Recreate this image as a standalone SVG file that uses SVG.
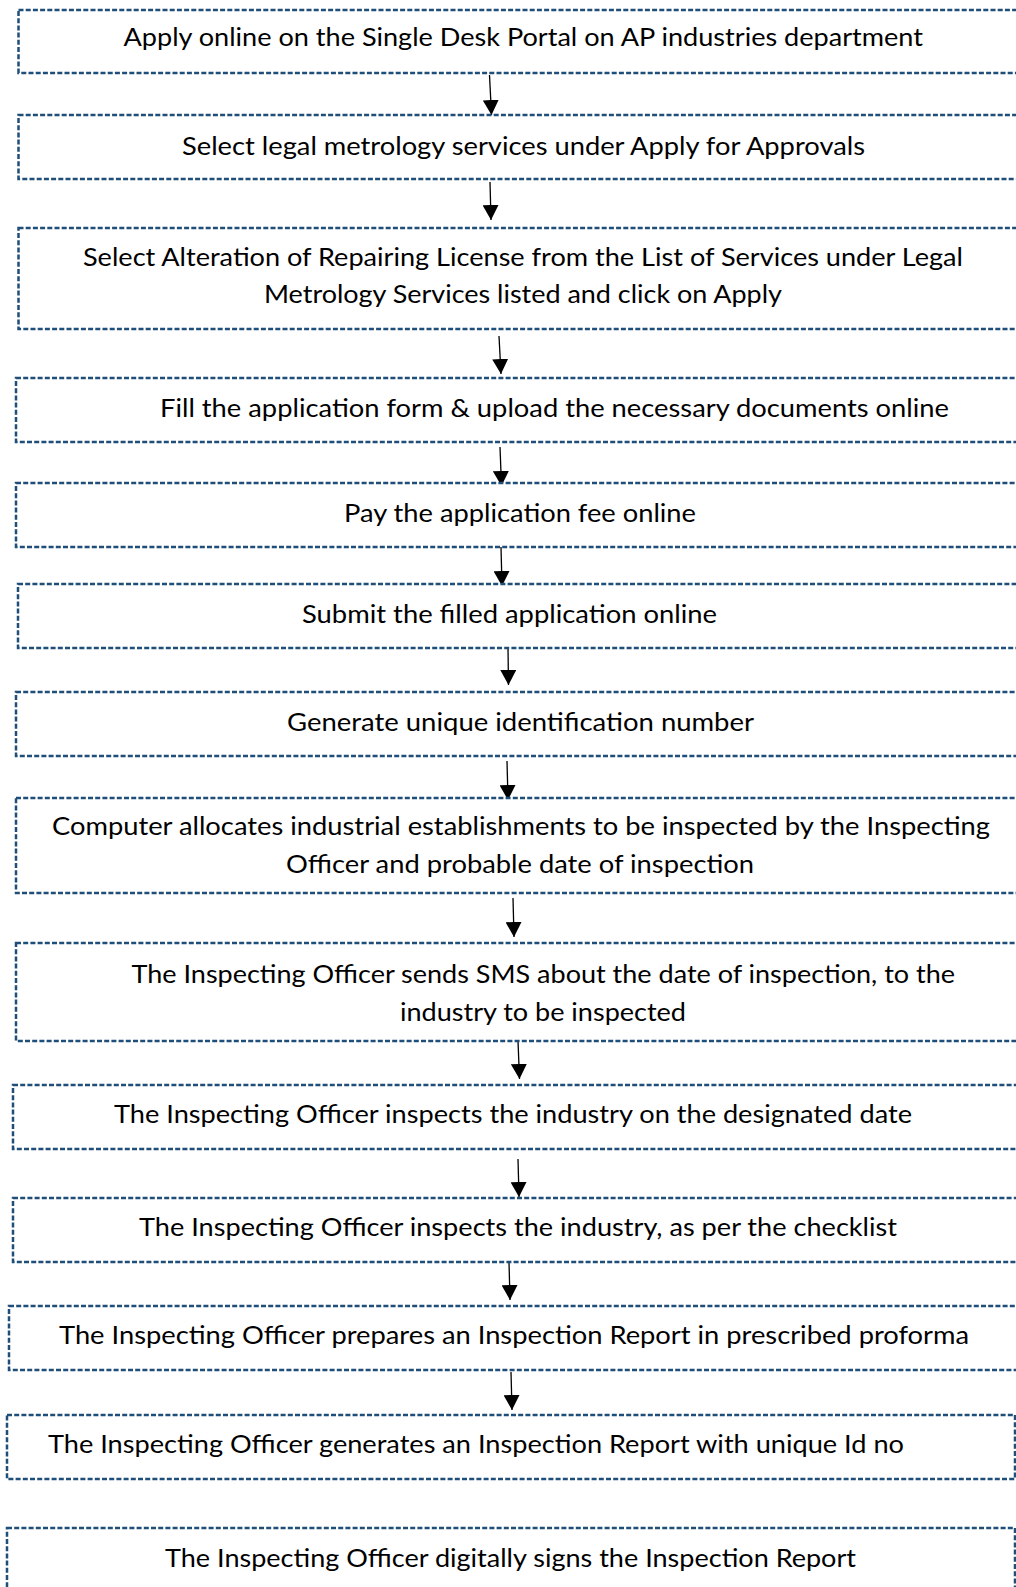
<svg xmlns="http://www.w3.org/2000/svg" width="1016" height="1587" viewBox="0 0 1016 1587">
<style>
.box{fill:#fff;stroke:#1F4E79;stroke-width:2.5;stroke-dasharray:5 2.2}
.t{font-family:Lato,"Open Sans","Liberation Sans",sans-serif;font-size:24.5px;fill:#000}
.c{stroke:#000;stroke-width:1.3;fill:none;marker-end:url(#ah)}
</style>
<defs>
<marker id="ah" markerUnits="userSpaceOnUse" viewBox="0 0 15 16" markerWidth="15" markerHeight="16" refX="15" refY="8" orient="auto">
<path d="M0,0 L15,8 L0,16 z" fill="#000"/>
</marker>
</defs>
<rect width="1016" height="1587" fill="#fff"/>
<g id="connectors">
<line class="c" x1="489.5" y1="75" x2="491.5" y2="115"/>
<line class="c" x1="490" y1="182" x2="491" y2="220"/>
<line class="c" x1="499" y1="336" x2="501" y2="374"/>
<line class="c" x1="500" y1="447" x2="501.5" y2="486"/>
<line class="c" x1="501" y1="547" x2="502" y2="586"/>
<line class="c" x1="508" y1="648" x2="508.5" y2="685"/>
<line class="c" x1="507" y1="761" x2="508" y2="800"/>
<line class="c" x1="513" y1="898" x2="514" y2="937"/>
<line class="c" x1="518" y1="1041" x2="519.5" y2="1079"/>
<line class="c" x1="518" y1="1159" x2="519" y2="1197"/>
<line class="c" x1="509" y1="1262" x2="510" y2="1300"/>
<line class="c" x1="511" y1="1372" x2="512" y2="1410"/>
</g>
<g id="n1"><rect class="box" x="18.5" y="10" width="1020" height="63"/><text class="t" x="123.5" y="46" textLength="799.5" lengthAdjust="spacingAndGlyphs">Apply online on the Single Desk Portal on AP industries department</text></g>
<g id="n2"><rect class="box" x="18.5" y="115" width="1020" height="64"/><text class="t" x="182" y="155" textLength="683" lengthAdjust="spacingAndGlyphs">Select legal metrology services under Apply for Approvals</text></g>
<g id="n3"><rect class="box" x="18.5" y="228" width="1020" height="101"/><text class="t" x="83" y="266" textLength="880" lengthAdjust="spacingAndGlyphs">Select Alteration of Repairing License from the List of Services under Legal</text><text class="t" x="264" y="303" textLength="518" lengthAdjust="spacingAndGlyphs">Metrology Services listed and click on Apply</text></g>
<g id="n4"><rect class="box" x="16" y="378" width="1020" height="64"/><text class="t" x="160" y="417" textLength="789" lengthAdjust="spacingAndGlyphs">Fill the application form &amp; upload the necessary documents online</text></g>
<g id="n5"><rect class="box" x="16" y="483" width="1020" height="64"/><text class="t" x="344" y="522" textLength="352" lengthAdjust="spacingAndGlyphs">Pay the application fee online</text></g>
<g id="n6"><rect class="box" x="18" y="584" width="1020" height="64"/><text class="t" x="302" y="623" textLength="415" lengthAdjust="spacingAndGlyphs">Submit the filled application online</text></g>
<g id="n7"><rect class="box" x="16" y="692" width="1020" height="64"/><text class="t" x="287" y="731" textLength="467" lengthAdjust="spacingAndGlyphs">Generate unique identification number</text></g>
<g id="n8"><rect class="box" x="16" y="798" width="1020" height="95"/><text class="t" x="52" y="835" textLength="938" lengthAdjust="spacingAndGlyphs">Computer allocates industrial establishments to be inspected by the Inspecting</text><text class="t" x="286" y="873" textLength="468" lengthAdjust="spacingAndGlyphs">Officer and probable date of inspection</text></g>
<g id="n9"><rect class="box" x="16" y="943" width="1020" height="98"/><text class="t" x="131.5" y="983" textLength="823.5" lengthAdjust="spacingAndGlyphs">The Inspecting Officer sends SMS about the date of inspection, to the</text><text class="t" x="400" y="1021" textLength="286" lengthAdjust="spacingAndGlyphs">industry to be inspected</text></g>
<g id="n10"><rect class="box" x="13" y="1085" width="1020" height="64"/><text class="t" x="114" y="1123" textLength="798" lengthAdjust="spacingAndGlyphs">The Inspecting Officer inspects the industry on the designated date</text></g>
<g id="n11"><rect class="box" x="13" y="1198" width="1020" height="64"/><text class="t" x="139" y="1236" textLength="758" lengthAdjust="spacingAndGlyphs">The Inspecting Officer inspects the industry, as per the checklist</text></g>
<g id="n12"><rect class="box" x="9" y="1306" width="1020" height="64"/><text class="t" x="59" y="1344" textLength="910" lengthAdjust="spacingAndGlyphs">The Inspecting Officer prepares an Inspection Report in prescribed proforma</text></g>
<g id="n13"><rect class="box" x="7" y="1415" width="1008" height="64"/><text class="t" x="48" y="1453" textLength="856" lengthAdjust="spacingAndGlyphs">The Inspecting Officer generates an Inspection Report with unique Id no</text></g>
<g id="n14"><rect class="box" x="7" y="1528" width="1008" height="80"/><text class="t" x="165" y="1567" textLength="691" lengthAdjust="spacingAndGlyphs">The Inspecting Officer digitally signs the Inspection Report</text></g>
</svg>
